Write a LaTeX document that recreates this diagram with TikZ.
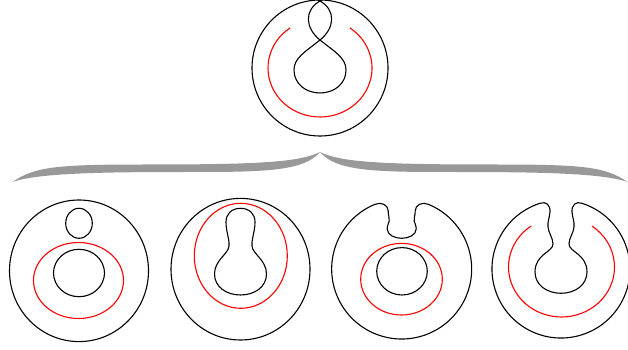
\documentclass[tikz,border=0pt]{standalone}
\usetikzlibrary{calc}

\begin{document}
\begin{tikzpicture}[x=1pt, y=1pt,
    curve/.style={line width=1.1pt, black},
    sep/.style={line width=1.1pt, red},
    brace/.style={fill=black!40, draw=none}
]
\useasboundingbox (0,0) rectangle (628,350);

% Top picture
\draw[curve] (320,282) circle (68);
\draw[curve] (312,353.5) -- (320,349) .. controls (336,340) and (335,322) .. (320,310)
    .. controls (305,298) and (294,292) .. (294,280) .. controls (294,266) and (306,257) .. (320,257)
    .. controls (334,257) and (346,266) .. (346,280) .. controls (346,292) and (335,298) .. (320,310)
    .. controls (305,322) and (304,340) .. (320,349) -- (328,353.5);
\draw[sep] (320,282) ++(125:52 and 49) arc[start angle=125, end angle=415, x radius=52, y radius=49];

% The brace
\foreach \s in {1,-1}{
  \begin{scope}[shift={(320,0)}, xscale=\s]
    \fill[brace] (0,198) .. controls (-20,188) and (-60,185.5) .. (-170,185.5)
        .. controls (-260,185.5) and (-285,184) .. (-307.5,168)
        .. controls (-280,178) and (-200,178) .. (-120,178)
        .. controls (-50,178) and (-15,180) .. (0,198) -- cycle;
  \end{scope}
}

% First: two circles inside
\draw[curve] (79,79.2) ellipse[x radius=69.5, y radius=70.8];
\draw[curve] (79,126.7) ellipse[x radius=13.3, y radius=15];
\draw[sep] (78.5,69.5) ellipse[x radius=45, y radius=38];
\draw[curve] (79,77) ellipse[x radius=25.5, y radius=23.7];

% Second: joined up
\draw[curve] (240.5,80.8) ellipse[x radius=69.5, y radius=70.8];
\draw[sep] (240.8,94.2) ellipse[x radius=46.5, y radius=52.5];
\begin{scope}[shift={(240.5,0)}]
  \draw[curve] (0,141.7) .. controls (9,141.7) and (14.5,136) .. (14.5,128)
      .. controls (14.5,118) and (11,112) .. (11.5,104) .. controls (12,96) and (26,90) .. (26,76)
      .. controls (26,63) and (14,55) .. (0,55) .. controls (-14,55) and (-26,63) .. (-26,76)
      .. controls (-26,90) and (-12,96) .. (-11.5,104) .. controls (-11,112) and (-14.5,118) .. (-14.5,128)
      .. controls (-14.5,136) and (-9,141.7) .. (0,141.7) -- cycle;
\end{scope}

% Third: notch in the outer circle
\begin{scope}[shift={(401.7,81)}]
  \draw[curve] (-26.7,64.7) arc[start angle=112.4, end angle=427.6, radius=70]
      .. controls (20.2,67.4) and (13.5,64) .. (13.5,58)
      .. controls (13.5,53) and (12,51) .. (12.5,48) .. controls (13,45) and (14.5,44) .. (14.5,40)
      .. controls (14.5,34) and (7,30.7) .. (0,30.7)
      .. controls (-7,30.7) and (-14.5,34) .. (-14.5,40)
      .. controls (-14.5,44) and (-13,45) .. (-12.5,48) .. controls (-12,51) and (-13.5,53) .. (-13.5,58)
      .. controls (-13.5,64) and (-20.2,67.4) .. (-26.7,64.7) -- cycle;
\end{scope}
\draw[sep] (401.5,70.8) ellipse[x radius=40.8, y radius=35.8];
\draw[curve] (402,78.7) ellipse[x radius=25.3, y radius=23.7];

% Fourth: long neck
\begin{scope}[shift={(561,81)}]
  \draw[curve] (-21,65.7) arc[start angle=107.7, end angle=432.3, radius=69]
      .. controls (15,68) and (10.5,64) .. (11,57)
      .. controls (11.5,51) and (13.5,48) .. (13,42) .. controls (12.5,36) and (8,31) .. (8,25)
      .. controls (8,17) and (26,15) .. (26,-3) .. controls (26,-16) and (14,-24.3) .. (0,-24.3)
      .. controls (-14,-24.3) and (-26,-16) .. (-26,-3) .. controls (-26,15) and (-8,17) .. (-8,25)
      .. controls (-8,31) and (-12.5,36) .. (-13,42) .. controls (-13.5,48) and (-11.5,51) .. (-11,57)
      .. controls (-10.5,64) and (-15,68) .. (-21,65.7) -- cycle;
\end{scope}
\draw[sep] (561.5,83) ++(125:53 and 50) arc[start angle=125, end angle=415, x radius=53, y radius=50];

\end{tikzpicture}
\end{document}
